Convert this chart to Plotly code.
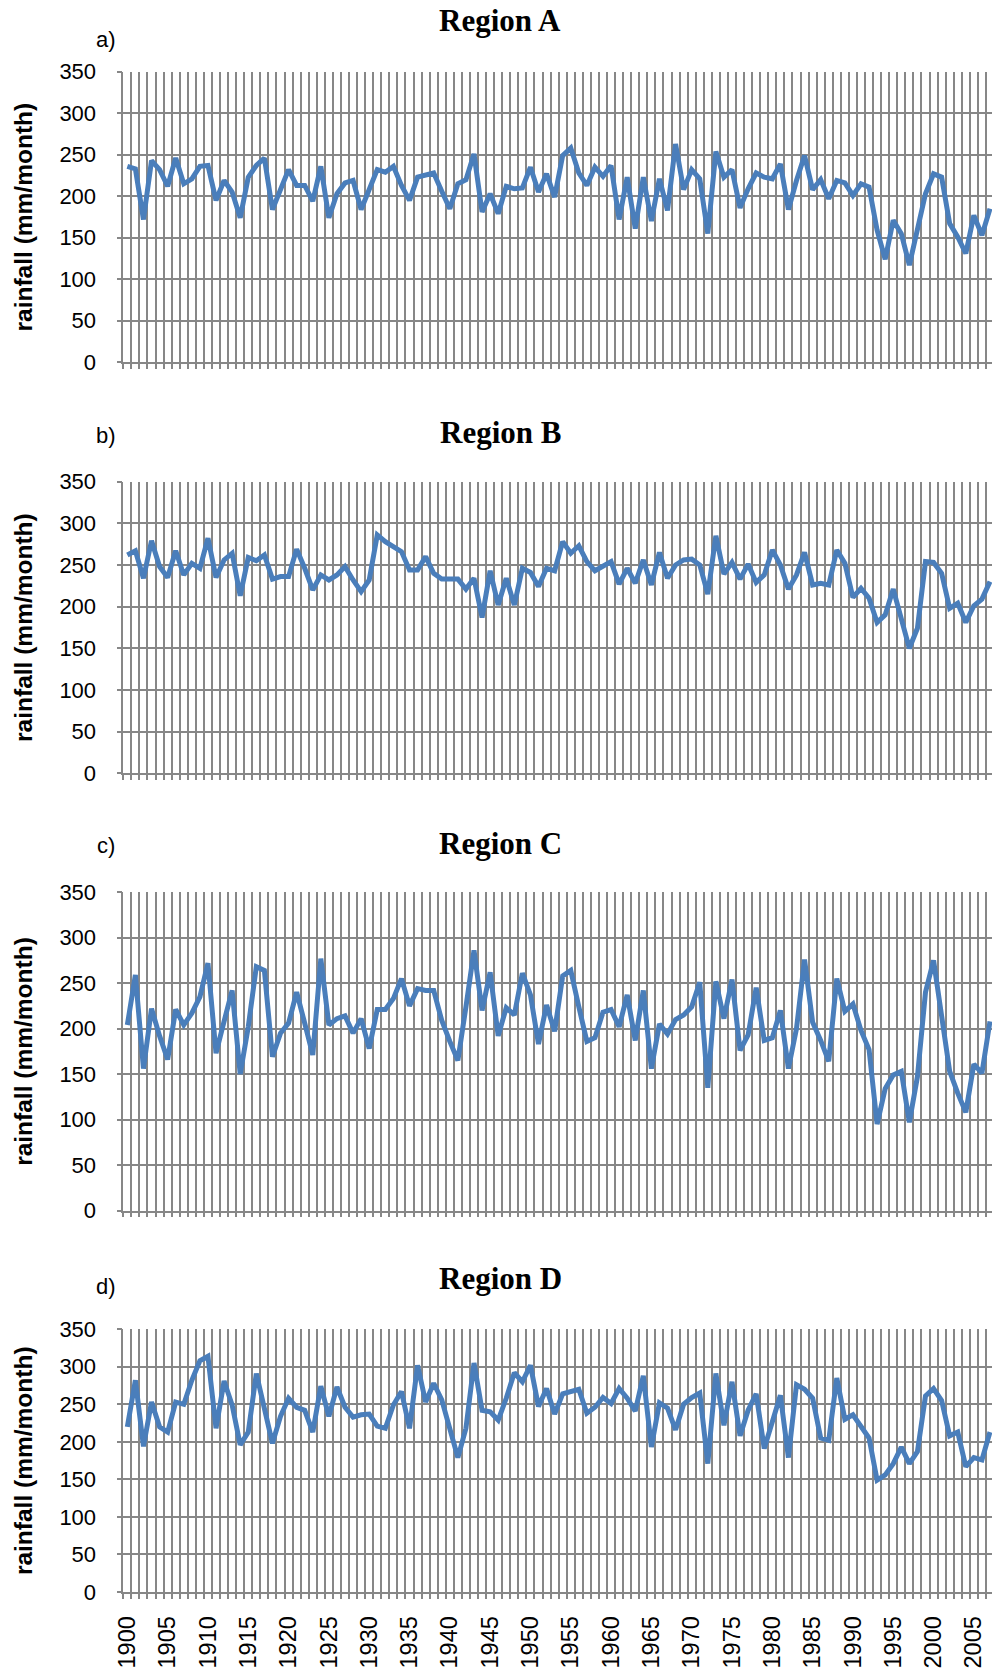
import plotly.graph_objects as go

years = list(range(1900, 2008))

region_a = [236, 233, 172, 243, 232, 212, 246, 215, 221, 236, 237, 195, 219, 205, 174, 223, 237, 246,
            184, 207, 232, 213, 213, 194, 236, 174, 203, 216, 219, 184, 207, 232, 229, 236, 213, 195,
            223, 225, 228, 206, 185, 215, 220, 251, 181, 203, 179, 212, 209, 210, 235, 205, 227, 199,
            249, 258, 228, 213, 235, 224, 237, 172, 223, 161, 223, 170, 221, 183, 263, 208, 232, 221, 155,
            254, 223, 232, 186, 209, 228, 223, 221, 239, 184, 219, 249, 208, 220, 197, 219, 216, 201,
            215, 211, 159, 124, 171, 155, 117, 159, 203, 227, 223, 167, 151, 131, 177, 153, 185]

region_b = [262, 267, 234, 279, 248, 235, 267, 238, 252, 246, 282, 235, 256, 264, 213, 259, 255, 262,
            233, 236, 236, 269, 246, 220, 238, 232, 238, 248, 232, 218, 232, 286, 278, 272, 266, 244,
            244, 260, 240, 233, 233, 233, 221, 234, 187, 243, 202, 234, 202, 246, 241, 224, 246, 243,
            278, 264, 273, 254, 243, 249, 254, 227, 246, 228, 256, 226, 265, 234, 250, 256, 257, 250, 215,
            285, 239, 253, 233, 251, 229, 238, 268, 250, 221, 238, 265, 226, 228, 226, 268, 252, 211,
            222, 210, 181, 190, 221, 187, 150, 174, 254, 253, 240, 198, 204, 181, 201, 209, 230]

region_c = [204, 259, 156, 222, 192, 166, 221, 204, 217, 235, 272, 173, 208, 242, 150, 202, 268, 264,
            169, 195, 206, 240, 206, 171, 277, 204, 211, 214, 195, 211, 178, 221, 221, 233, 255, 225,
            244, 242, 242, 209, 186, 165, 224, 286, 220, 262, 192, 223, 215, 261, 237, 183, 226, 197,
            258, 264, 224, 186, 190, 218, 221, 202, 237, 187, 242, 156, 205, 194, 210, 215, 224, 251, 135,
            252, 211, 254, 176, 193, 245, 187, 190, 220, 156, 200, 276, 207, 187, 164, 255, 219, 227,
            198, 177, 95, 134, 149, 153, 97, 147, 240, 275, 217, 153, 129, 108, 161, 151, 208]

region_d = [220, 282, 194, 253, 220, 213, 253, 250, 282, 308, 314, 218, 281, 249, 196, 213, 291, 243,
            198, 234, 258, 246, 242, 213, 274, 234, 273, 246, 233, 236, 237, 221, 218, 249, 267, 218,
            302, 253, 278, 256, 216, 179, 218, 305, 242, 240, 229, 258, 292, 280, 302, 247, 271, 237,
            264, 267, 270, 238, 246, 259, 251, 271, 258, 241, 288, 193, 252, 245, 216, 250, 259, 265, 171,
            291, 222, 280, 208, 242, 264, 191, 227, 262, 179, 276, 270, 258, 205, 202, 285, 230, 236,
            220, 205, 149, 156, 171, 193, 171, 187, 261, 271, 255, 208, 213, 167, 179, 176, 213]

panel_titles = ["Region A", "Region B", "Region C", "Region D"]
panel_letters = ["a)", "b)", "c)", "d)"]
y_title = "rainfall (mm/month)"

series = [region_a, region_b, region_c, region_d]

W, H = 992, 1673
plot_left = 123.3
# (top px, bottom px) of each plot area
panels_px = [(71.7, 362.3), (481.6, 773.3), (892.2, 1210.5), (1329.2, 1592.0)]
title_y_px = [21, 432, 843, 1278]
letter_y_px = [39.5, 435, 845, 1286]

GRID = "#878787"
LINE = "#4A7EBB"
TICKFONT = dict(family="Liberation Sans, Arial, sans-serif", size=22, color="black")
XTICKFONT = dict(family="Liberation Sans, Arial, sans-serif", size=23.5, color="black")

fig = go.Figure()
annotations = []
layout = {}
for k in range(4):
    n = k + 1
    xs = "x" if n == 1 else f"x{n}"
    ys = "y" if n == 1 else f"y{n}"
    fig.add_trace(go.Scatter(x=years, y=series[k], mode="lines",
                             line=dict(color=LINE, width=5), xaxis=xs, yaxis=ys,
                             showlegend=False, hoverinfo="x+y"))
    top, bot = panels_px[k]
    ydom = [1 - bot / H, 1 - top / H]
    layout[f"xaxis{'' if n == 1 else n}"] = dict(
        domain=[plot_left / W, 1.0], anchor=ys, range=[1899.5, 2007.25], automargin=False,
        tickmode="linear", tick0=1900, dtick=5, showgrid=False, ticks="",
        showticklabels=(n == 4), tickangle=-90, tickfont=XTICKFONT,
        showline=True, linecolor=GRID, linewidth=1.6, zeroline=False,
        ticklabelstandoff=13,
        minor=dict(tickmode="linear", tick0=1899.5, dtick=1, showgrid=True,
                   gridcolor=GRID, gridwidth=1.6, ticks="outside", ticklen=5,
                   tickcolor=GRID, tickwidth=1.6),
    )
    layout[f"yaxis{'' if n == 1 else n}"] = dict(
        domain=ydom, anchor=xs, range=[0, 350], automargin=False,
        tickmode="linear", tick0=0, dtick=50,
        showgrid=True, gridcolor=GRID, gridwidth=1.6, ticks="outside", ticklen=5,
        tickcolor=GRID, tickwidth=1.6, showline=True, linecolor=GRID, linewidth=1.6,
        zeroline=False, tickfont=TICKFONT, ticklabelstandoff=16,
    )
    annotations.append(dict(text=f"<b>{panel_titles[k]}</b>", xref="paper", yref="paper",
                            x=469 / 930, y=1 - title_y_px[k] / H, xanchor="center", yanchor="middle",
                            showarrow=False,
                            font=dict(family="Liberation Serif, Times New Roman, serif", size=31, color="black")))
    annotations.append(dict(text=panel_letters[k], xref="paper", yref="paper",
                            x=105.6 / W, y=1 - letter_y_px[k] / H, xanchor="center", yanchor="middle",
                            showarrow=False,
                            font=dict(family="Liberation Sans, Arial, sans-serif", size=22, color="black")))
    annotations.append(dict(text=f"<b>{y_title}</b>", xref="paper", yref="paper",
                            x=23.5 / W, y=1 - (top + bot) / 2 / H, xanchor="center", yanchor="middle",
                            textangle=-90, showarrow=False,
                            font=dict(family="Liberation Sans, Arial, sans-serif", size=24.5, color="black")))

fig.update_layout(template="none", width=W, height=H, margin=dict(l=0, r=0, t=0, b=0),
                  paper_bgcolor="white", plot_bgcolor="white",
                  annotations=annotations, **layout)
fig.write_html("out.html")
